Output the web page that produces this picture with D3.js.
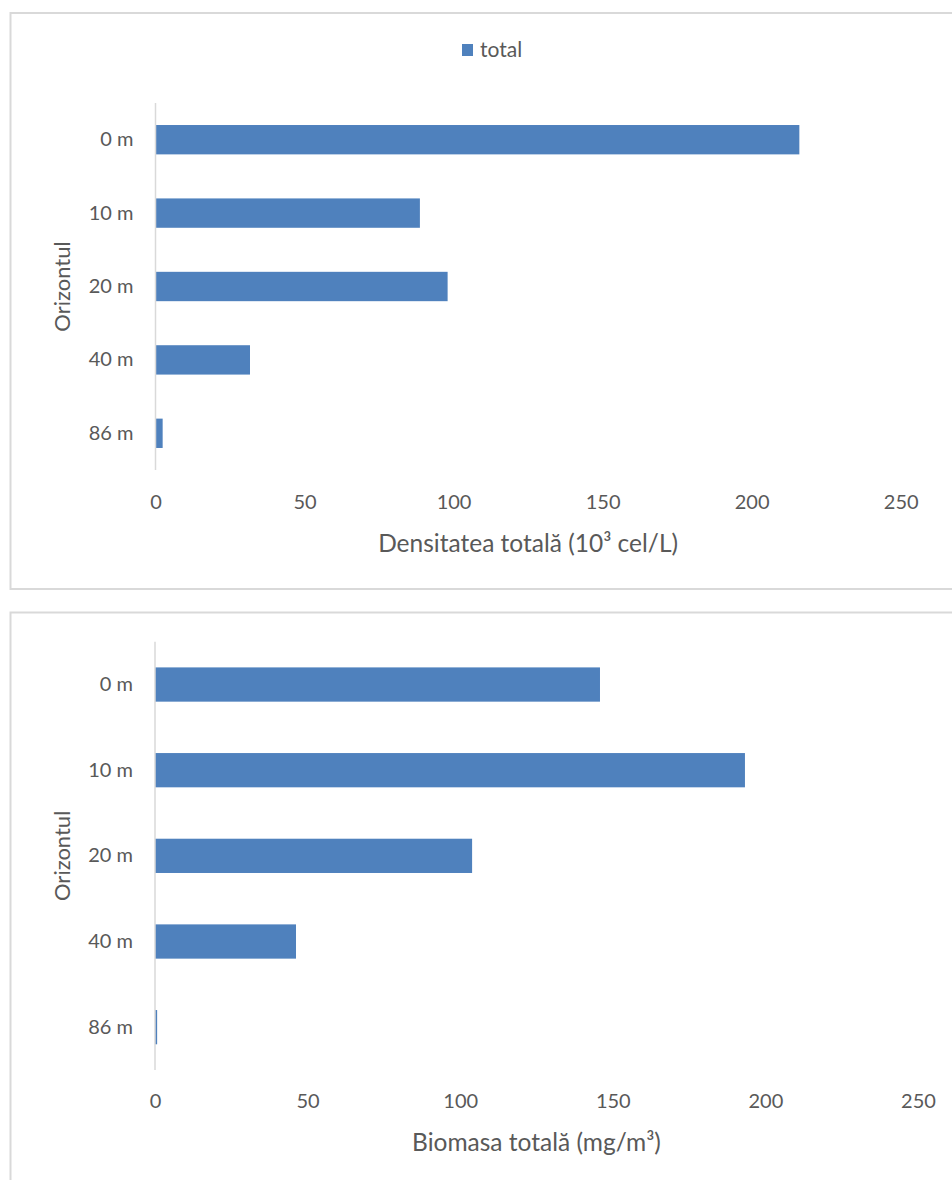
<!DOCTYPE html>
<html>
<head>
<meta charset="utf-8">
<script src="https://cdn.jsdelivr.net/npm/d3@7"></script>
<style>
  body { margin: 0; background: #fff; }
  svg text { font-family: Lato, "Open Sans", sans-serif; fill: #595959; }
</style>
</head>
<body>
<svg width="952" height="1180"></svg>
<script>
var depths = ["0 m", "10 m", "20 m", "40 m", "86 m"];
var densityValues = [216, 88.7, 98, 31.7, 2.4];
var biomassValues = [145.8, 193.3, 103.9, 46.2, 0.7];
var xTicks = [0, 50, 100, 150, 200, 250];
var legendLabel = "total";
var yTitle = "Orizontul";
var densityTitle = "Densitatea totală (10³ cel/L)";
var biomassTitle = "Biomasa totală (mg/m³)";

var svg = d3.select("svg"),
    barColor = "#4f81bd",
    gridColor = "#d9d9d9";

function drawPanel(cfg) {
    var g = svg.append("g");

    // chart frame (runs past the right/bottom edge of the picture)
    g.append("rect")
        .attr("x", 10.5)
        .attr("y", cfg.frameTop)
        .attr("width", 960)
        .attr("height", cfg.frameHeight)
        .attr("fill", "none")
        .attr("stroke", gridColor)
        .attr("stroke-width", 2);

    var xScale = d3.scaleLinear().domain([0, 250]).range([cfg.left, cfg.right]),
        yScale = d3.scaleBand().domain(depths).range([cfg.top, cfg.bottom])
            .paddingInner(0.6).paddingOuter(0.3);

    var data = depths.map(function (d, i) {
        return { depth: d, value: cfg.values[i] };
    });

    g.selectAll(".bar")
        .data(data)
        .enter().append("rect")
        .attr("class", "bar")
        .attr("x", xScale(0))
        .attr("y", function (d) { return yScale(d.depth); })
        .attr("width", function (d) { return xScale(d.value) - xScale(0); })
        .attr("height", yScale.bandwidth())
        .attr("fill", barColor);

    // vertical axis line
    g.append("line")
        .attr("x1", xScale(0)).attr("x2", xScale(0))
        .attr("y1", cfg.top).attr("y2", cfg.bottom)
        .attr("stroke", gridColor)
        .attr("stroke-width", 1.5);

    var yAxis = d3.axisLeft(yScale).tickSize(0).tickPadding(22);
    var gY = g.append("g")
        .attr("transform", "translate(" + xScale(0) + ",0)")
        .call(yAxis);
    gY.select(".domain").remove();
    gY.selectAll("text")
        .style("font-size", "20px")
        .attr("fill", "#595959");

    var xAxis = d3.axisBottom(xScale).tickValues(xTicks).tickSize(0).tickPadding(0);
    var gX = g.append("g")
        .attr("transform", "translate(0," + cfg.tickY + ")")
        .call(xAxis);
    gX.select(".domain").remove();
    gX.selectAll("text")
        .attr("y", 0)
        .attr("dy", "0.35em")
        .style("font-size", "20px")
        .attr("fill", "#595959");

    g.append("text")
        .attr("x", (cfg.left + cfg.right) / 2)
        .attr("y", cfg.titleY)
        .attr("dy", "0.35em")
        .attr("text-anchor", "middle")
        .style("font-size", "24.5px")
        .text(cfg.title);

    g.append("text")
        .attr("transform", "translate(62," + (cfg.top + cfg.bottom) / 2 + ") rotate(-90)")
        .attr("dy", "0.35em")
        .attr("text-anchor", "middle")
        .style("font-size", "22px")
        .text(yTitle);

    return g;
}

var topPanel = drawPanel({
    frameTop: 13, frameHeight: 576,
    left: 155.5, right: 900.7, top: 103, bottom: 470,
    tickY: 502, titleY: 543,
    values: densityValues, title: densityTitle
});

// legend (top chart only)
var legend = topPanel.append("g").attr("transform", "translate(462,50)");
legend.append("rect")
    .attr("x", 0).attr("y", -6)
    .attr("width", 11).attr("height", 12)
    .attr("fill", barColor);
legend.append("text")
    .attr("x", 18)
    .attr("dy", "0.35em")
    .style("font-size", "21px")
    .text(legendLabel);

drawPanel({
    frameTop: 612.5, frameHeight: 600,
    left: 155, right: 918, top: 641.7, bottom: 1070,
    tickY: 1101, titleY: 1142,
    values: biomassValues, title: biomassTitle
});
</script>
</body>
</html>
